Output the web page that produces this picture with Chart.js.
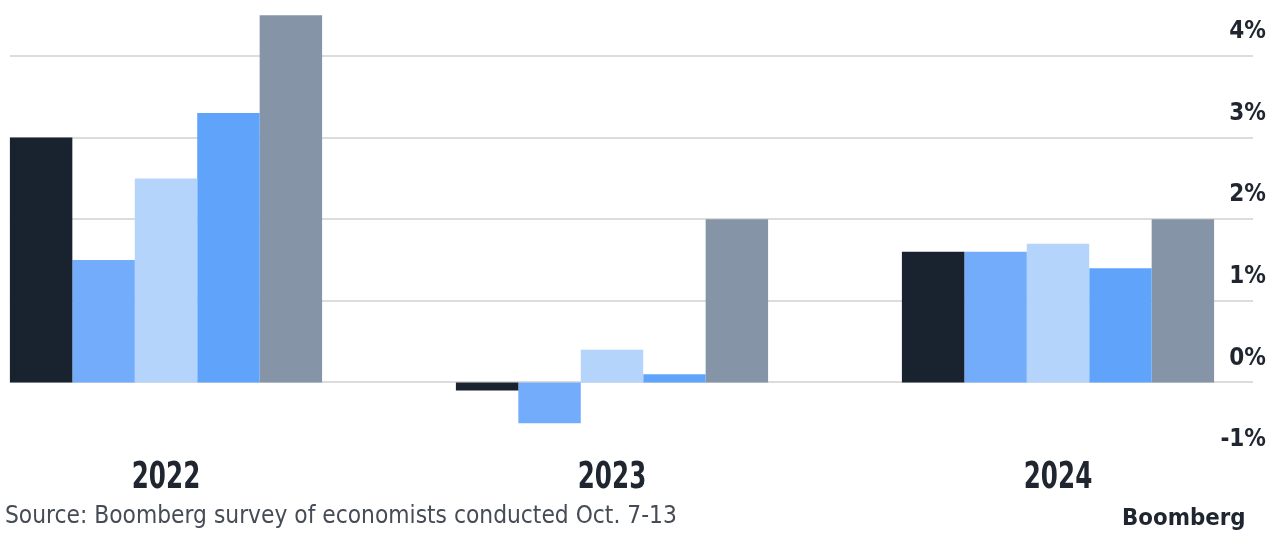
<!DOCTYPE html>
<html lang="en">
<head>
    <meta charset="UTF-8">
    <title>Economists survey forecasts</title>
    <script src="https://cdn.jsdelivr.net/npm/chart.js"></script>
    <style>
        body {
            margin: 0;
            width: 1278px;
            height: 536px;
            overflow: hidden;
            background: #ffffff;
            position: relative;
            font-family: 'Liberation Sans Narrow', 'DejaVu Sans Condensed', 'Liberation Sans', sans-serif;
        }

        /* the plot is cropped on both sides, so the canvas runs past the page edge */
        .chart-wrap {
            position: absolute;
            left: -57px;
            top: 0;
            width: 1338px;
            height: 536px;
        }

        .source {
            position: absolute;
            left: 5px;
            top: 500px;
            font-size: 25px;
            color: #464c56;
            white-space: nowrap;
            transform-origin: left top;
        }

        .brand {
            position: absolute;
            right: 32px;
            top: 504px;
            font-size: 23px;
            font-weight: bold;
            color: #1f2630;
            white-space: nowrap;
            transform-origin: right top;
        }
    </style>
</head>
<body>
    <div class="chart-wrap">
        <canvas id="forecastChart"></canvas>
    </div>
    <div class="source" id="source">Source: Boomberg survey of economists conducted Oct. 7-13</div>
    <div class="brand" id="brand">Boomberg</div>

    <script>
        const years = ['2022', '2023', '2024'];
        const seriesNames = ['Series 1', 'Series 2', 'Series 3', 'Series 4', 'Series 5'];
        const series1 = [3.0, -0.1, 1.6];
        const series2 = [1.5, -0.5, 1.6];
        const series3 = [2.5, 0.4, 1.7];
        const series4 = [3.3, 0.1, 1.4];
        const series5 = [4.5, 2.0, 2.0];
        const yTicks = [-1, 0, 1, 2, 3, 4];

        const colors = ['#19222f', '#72acfa', '#b5d4fc', '#5fa3fb', '#8594a6'];
        const fontStack = "'Liberation Sans Narrow', 'DejaVu Sans Condensed', 'Liberation Sans', sans-serif";

        // squeeze the footer text to the condensed width of the original
        function squeeze(id, width) {
            const el = document.getElementById(id);
            el.style.transform = 'scaleX(' + (width / el.offsetWidth) + ')';
        }
        squeeze('source', 672);
        squeeze('brand', 124);

        const gridPlugin = {
            id: 'partialGrid',
            // light grid lines, only from the first bar to just past the last one
            beforeDatasetsDraw(chart) {
                const y = chart.scales.y;
                const firstBar = chart.getDatasetMeta(0).data[0];
                const left = firstBar.x - firstBar.width / 2;
                const right = chart.chartArea.right - 28;
                const ctx = chart.ctx;
                ctx.save();
                ctx.strokeStyle = '#dcdcdc';
                ctx.lineWidth = 2;
                yTicks.forEach(v => {
                    if (v < 0) return;
                    const py = Math.round(y.getPixelForValue(v));
                    ctx.beginPath();
                    ctx.moveTo(left, py);
                    ctx.lineTo(right, py);
                    ctx.stroke();
                });
                ctx.restore();
            },
            // condensed year labels under each group
            afterDraw(chart) {
                const x = chart.scales.x;
                const ctx = chart.ctx;
                const squeezeX = 0.72;
                ctx.save();
                ctx.font = 'bold 38px ' + fontStack;
                ctx.fillStyle = '#1f2630';
                ctx.textAlign = 'center';
                ctx.textBaseline = 'middle';
                ctx.scale(squeezeX, 1);
                years.forEach((yr, i) => {
                    ctx.fillText(yr, x.getPixelForValue(i) / squeezeX, chart.chartArea.bottom + 14);
                });
                ctx.restore();
            }
        };

        const allSeries = [series1, series2, series3, series4, series5];

        new Chart(document.getElementById('forecastChart'), {
            type: 'bar',
            data: {
                labels: years,
                datasets: allSeries.map((vals, i) => ({
                    label: seriesNames[i],
                    data: vals,
                    backgroundColor: colors[i],
                    borderWidth: 0,
                    barPercentage: 1.0,
                    categoryPercentage: 0.7
                }))
            },
            options: {
                responsive: true,
                maintainAspectRatio: false,
                animation: false,
                layout: {
                    padding: { top: 7, bottom: 72, left: 0, right: 0 }
                },
                plugins: {
                    legend: { display: false },
                    tooltip: { enabled: false }
                },
                scales: {
                    x: {
                        display: false
                    },
                    y: {
                        position: 'right',
                        min: -1,
                        max: 4.6,
                        afterBuildTicks(scale) {
                            scale.ticks = yTicks.map(v => ({ value: v }));
                        },
                        afterFit(scale) {
                            // labels sit inside the plot, so the axis takes no room
                            scale.width = 0;
                            scale.paddingTop = 0;
                            scale.paddingBottom = 0;
                        },
                        grid: { display: false },
                        border: { display: false },
                        ticks: {
                            mirror: true,
                            padding: -15,
                            labelOffset: -24,
                            color: '#1f2630',
                            font: {
                                family: fontStack,
                                size: 24,
                                weight: 'bold'
                            },
                            callback: v => v + '%'
                        }
                    }
                }
            },
            plugins: [gridPlugin]
        });
    </script>
</body>
</html>
